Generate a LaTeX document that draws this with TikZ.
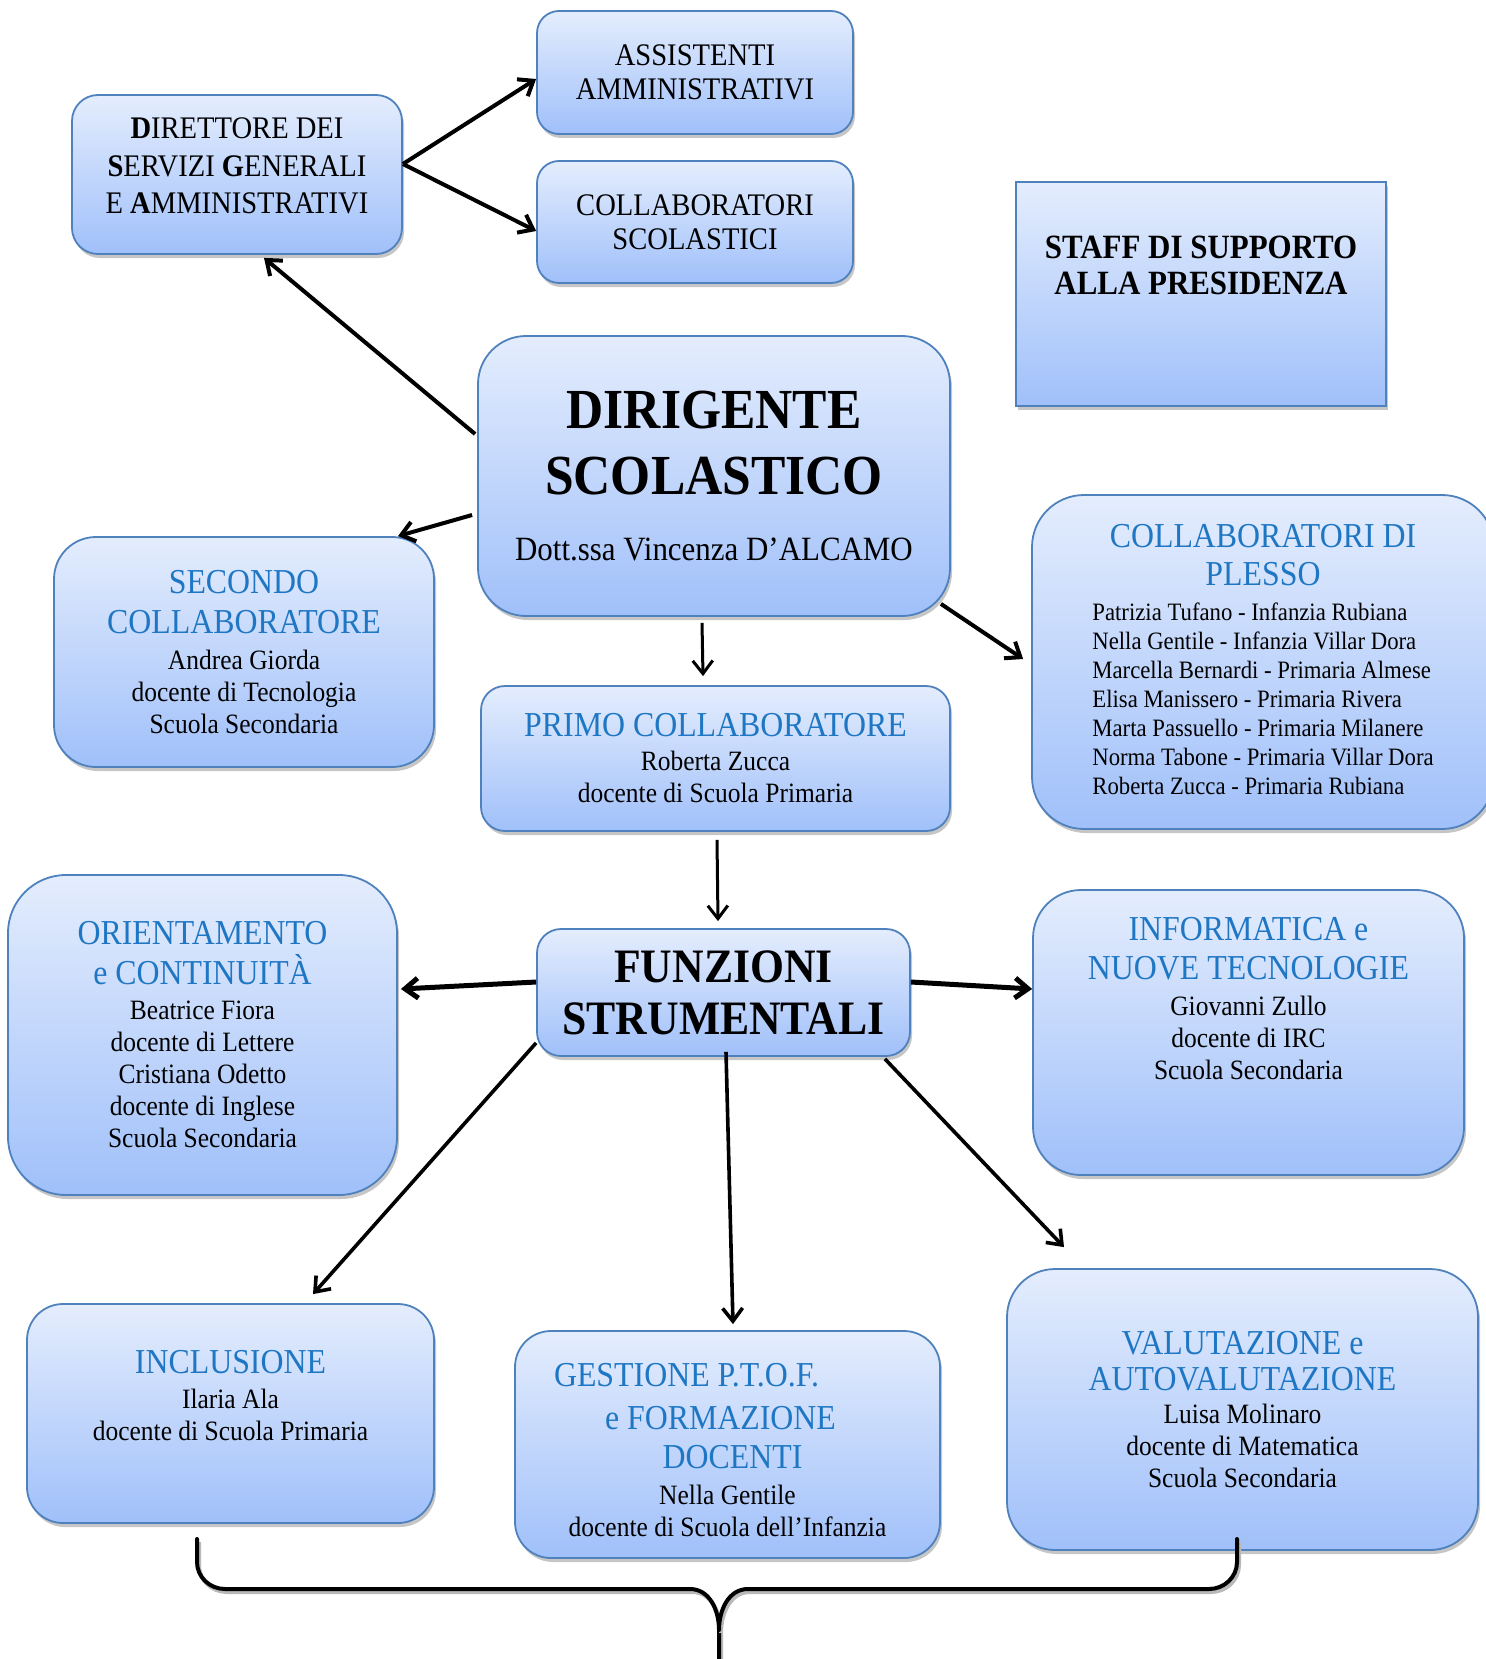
\documentclass[tikz,border=0pt]{standalone}
\usepackage{fontspec}
\setmainfont{Liberation Serif}[FakeStretch=0.91]
\usetikzlibrary{arrows.meta,shadows,positioning}

\definecolor{bordo}{RGB}{79,129,189}
\definecolor{chiaro}{RGB}{228,237,253}
\definecolor{scuro}{RGB}{160,192,250}
\definecolor{blu}{RGB}{31,119,196}

\newcommand{\capo}{\color{blu}\fontsize{17.5}{20}\selectfont}
\newcommand{\corpo}{\fontsize{14}{16}\selectfont}

\tikzset{
  ufficio/.style={draw=bordo, line width=0.9pt, top color=chiaro, bottom color=scuro,
    drop shadow={shadow xshift=1pt, shadow yshift=-2pt, opacity=0.45},
    align=center, inner sep=0pt, font=\corpo},
  testo/.style={align=center, inner sep=0pt, font=\corpo},
  freccia/.style={-{Straight Barb[length=6.5pt,width=10pt]}, line width=2pt},
  sottile/.style={freccia, line width=1.5pt},
  graffa/.style={line width=2pt, line cap=round,
    preaction={draw=gray!55, line width=2pt, transform canvas={shift={(1pt,-1.5pt)}}}}
}

\begin{document}
\begin{tikzpicture}[x=0.5pt, y=-0.5pt]
  \useasboundingbox (0,0) rectangle (1485,1659);

  % Segreteria
  \node[ufficio, minimum width=165pt, minimum height=79.5pt, rounded corners=13pt] (dsga) at (237,174.5) {};
  \node[testo, font=\fontsize{15.7}{18.8}\selectfont] (dsgaT) at (237,166)
    {\textbf{D}IRETTORE DEI\\ \textbf{S}ERVIZI \textbf{G}ENERALI\\ E \textbf{A}MMINISTRATIVI};
  \node[ufficio, minimum width=158pt, minimum height=61.5pt, rounded corners=11pt,
    font=\fontsize{15.7}{17}\selectfont] (assistenti) at (695,72.5) {ASSISTENTI\\ AMMINISTRATIVI};
  \node[ufficio, minimum width=158pt, minimum height=61pt, rounded corners=11pt,
    font=\fontsize{15.7}{17}\selectfont] (collscol) at (695,222) {COLLABORATORI\\ SCOLASTICI};

  % Staff
  \node[ufficio, minimum width=185pt, minimum height=112pt, rounded corners=0pt] (staff) at (1201,294) {};
  \node[testo, font=\fontsize{17}{18}\selectfont\bfseries] (staffT) at (1201,265.5)
    {STAFF DI SUPPORTO\\ ALLA PRESIDENZA};

  % Dirigente
  \node[ufficio, minimum width=236pt, minimum height=140pt, rounded corners=24pt,
    font=\fontsize{28.3}{33}\selectfont\bfseries] (dirigente) at (714,476)
    {DIRIGENTE\\ SCOLASTICO\\[0pt] \fontsize{17}{19}\mdseries\selectfont Dott.ssa Vincenza D’ALCAMO};

  % Collaboratori
  \node[ufficio, minimum width=190pt, minimum height=115pt, rounded corners=21pt] (secondo) at (244,652)
    {\capo SECONDO\\[4pt] \capo COLLABORATORE\\[2pt] Andrea Giorda\\ docente di Tecnologia\\ Scuola Secondaria};
  \node[ufficio, minimum width=234.5pt, minimum height=72.5pt, rounded corners=12pt] (primo) at (715.5,758.5)
    {\capo PRIMO COLLABORATORE\\[1pt] Roberta Zucca\\ docente di Scuola Primaria};
  \node[ufficio, minimum width=231pt, minimum height=167pt, rounded corners=26pt] (plesso) at (1263,662) {};
  \node[testo] (plessoT) at (1263,664)
    {\capo COLLABORATORI DI\\[3pt] \capo PLESSO\\[6pt]
     \fontsize{12.5}{14.5}\selectfont\begin{tabular}{@{}l@{}}
       Patrizia Tufano - Infanzia Rubiana\\
       Nella Gentile - Infanzia Villar Dora\\
       Marcella Bernardi - Primaria Almese\\
       Elisa Manissero - Primaria Rivera\\
       Marta Passuello - Primaria Milanere\\
       Norma Tabone - Primaria Villar Dora\\
       Roberta Zucca - Primaria Rubiana
     \end{tabular}};

  % Funzioni strumentali
  \node[ufficio, minimum width=186.5pt, minimum height=63.5pt, rounded corners=12pt,
    font=\fontsize{24}{26}\selectfont\bfseries] (funzioni) at (723.5,992.5) {FUNZIONI\\ STRUMENTALI};
  \node[ufficio, minimum width=194.5pt, minimum height=160pt, rounded corners=29pt] (orient) at (202.5,1035)
    {\capo ORIENTAMENTO\\[4pt] \capo e CONTINUITÀ\\[1.5pt] Beatrice Fiora\\ docente di Lettere\\ Cristiana Odetto\\
     docente di Inglese\\ Scuola Secondaria};
  \node[ufficio, minimum width=215.5pt, minimum height=142.5pt, rounded corners=24pt] (informatica) at (1248.5,1032.5) {};
  \node[testo] (informaticaT) at (1248.5,998.5)
    {\capo INFORMATICA e\\[3.6pt] \capo NUOVE TECNOLOGIE\\[2pt] Giovanni Zullo\\ docente di IRC\\ Scuola Secondaria};
  \node[ufficio, minimum width=203.5pt, minimum height=109.5pt, rounded corners=18pt] (inclusione) at (230.5,1413.5) {};
  \node[testo] (inclusioneT) at (230.5,1396)
    {\capo INCLUSIONE\\[1.5pt] Ilaria Ala\\ docente di Scuola Primaria};
  \node[ufficio, minimum width=212.5pt, minimum height=113.5pt, rounded corners=18pt] (gestione) at (727.5,1444.5) {};
  \node[testo] (gestioneT) at (727.5,1450)
    {\capo GESTIONE P.T.O.F.\rule{41pt}{0pt}\\[5.7pt] \capo e FORMAZIONE\rule{7pt}{0pt}\\[3.6pt]
     \capo\rule{5pt}{0pt}DOCENTI\\[2pt] Nella Gentile\\ docente di Scuola dell’Infanzia};
  \node[ufficio, minimum width=235.5pt, minimum height=140.5pt, rounded corners=24pt] (valutazione) at (1242.5,1409.5)
    {\capo VALUTAZIONE e\\[2pt] \capo AUTOVALUTAZIONE\\[0.4pt] Luisa Molinaro\\ docente di Matematica\\ Scuola Secondaria};

  % Frecce
  \draw[freccia] ([yshift=5.25pt]dsga.east) -- ([yshift=-3.25pt]assistenti.west);
  \draw[freccia] ([yshift=5.25pt]dsga.east) -- ([yshift=-4.5pt]collscol.west);
  \draw[freccia] ([xshift=-1pt,yshift=21pt]dirigente.west) -- ([xshift=13.5pt,yshift=-1.5pt]dsga.south);
  \draw[freccia] ([xshift=-2.5pt,yshift=-19.5pt]dirigente.west) -- ([xshift=77pt]secondo.north);
  \draw[sottile] ([xshift=-6pt,yshift=-3pt]dirigente.south) -- ([xshift=-6.25pt,yshift=4.5pt]primo.north);
  \draw[freccia] ([xshift=-5pt,yshift=6.5pt]dirigente.south east) -- ([xshift=-4pt,yshift=1.5pt]plesso.west);
  \draw[sottile] ([xshift=0.75pt,yshift=-4pt]primo.south) -- ([xshift=-2.75pt,yshift=3.5pt]funzioni.north);
  \draw[freccia, line width=2.5pt] ([yshift=5.25pt]funzioni.west) -- ([xshift=1.5pt,yshift=23pt]orient.east);
  \draw[freccia, line width=2.5pt] ([yshift=5.25pt]funzioni.east) -- ([yshift=21.75pt]informatica.west);
  \draw[freccia, line width=1.8pt] ([yshift=7pt]funzioni.south west) -- ([xshift=41.25pt,yshift=4.5pt]inclusione.north);
  \draw[freccia, line width=1.8pt] ([xshift=1.25pt,yshift=2.5pt]funzioni.south) -- ([xshift=2.75pt,yshift=3pt]gestione.north);
  \draw[freccia, line width=1.8pt] ([xshift=-13pt,yshift=-1pt]funzioni.south east) -- ([xshift=-89.25pt,yshift=10.5pt]valutazione.north);

  % Graffa
  \coordinate (graffaSx) at (197,1539);
  \coordinate (graffaDx) at (1237,1539);
  \coordinate (punta) at (719,1659);
  \draw[graffa] (graffaSx) -- (197,1562) to[out=-90,in=180] (225,1589) -- (690,1589)
    to[out=0,in=90] (719,1630) -- (punta);
  \draw[graffa] (graffaDx) -- (1237,1562) to[out=-90,in=0] (1209,1589) -- (748,1589)
    to[out=180,in=90] (719,1630);
\end{tikzpicture}
\end{document}
